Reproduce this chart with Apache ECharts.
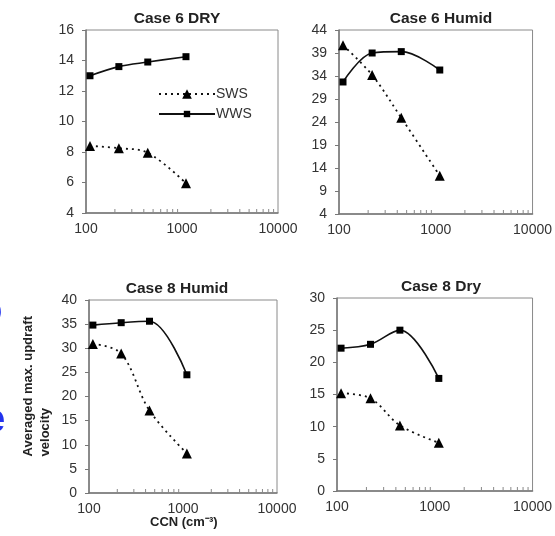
<!DOCTYPE html>
<html>
<head>
<meta charset="utf-8">
<script src="https://cdn.jsdelivr.net/npm/echarts@6/dist/echarts.min.js"></script>
<style>
  html, body { margin: 0; padding: 0; background: #fff; }
  #main { width: 555px; height: 536px; }
</style>
</head>
<body>
<div id="main"></div>
<script>
// CCN values (cm-3) shared by all panels
var ccn = [110, 220, 440, 1100];

var titles = ['Case 6 DRY', 'Case 6 Humid', 'Case 8 Humid', 'Case 8 Dry'];

// updraft velocity per panel
var sws6dry = [8.4, 8.25, 7.95, 5.95];
var wws6dry = [13.0, 13.6, 13.9, 14.25];
var sws6humid = [40.7, 34.2, 24.9, 12.3];
var wws6humid = [32.7, 39.0, 39.3, 35.3];
var sws8humid = [30.9, 28.9, 17.1, 8.2];
var wws8humid = [34.8, 35.3, 35.6, 24.5];
var sws8dry = [15.2, 14.4, 10.2, 7.5];
var wws8dry = [22.2, 22.8, 25.0, 17.5];

// y axis ranges [min, max, interval]
var yRanges = [[4, 16, 2], [4, 44, 5], [0, 40, 5], [0, 30, 5]];

// minor log ticks along the x axis
var minorTickValues = [200, 300, 400, 500, 600, 700, 800, 900, 2000, 3000, 4000, 5000, 6000, 7000, 8000, 9000];

var swsData = [sws6dry, sws6humid, sws8humid, sws8dry];
var wwsData = [wws6dry, wws6humid, wws8humid, wws8dry];

var font = 'Liberation Sans, Arial, sans-serif';

var chart = echarts.init(document.getElementById('main'));

var grids = [
  {left: 86, top: 30, width: 192, height: 183},
  {left: 339, top: 30, width: 194, height: 184},
  {left: 89, top: 300, width: 188, height: 193},
  {left: 337, top: 298, width: 199, height: 193}
];
// title centres (Excel put the left ones a little off centre)
var titleX = [172, 436, 172, 436];

var xAxes = [], yAxes = [], series = [], titleOpts = [];

grids.forEach(function (g, i) {
  g.show = true;
  g.borderColor = '#8a8a8a';
  g.borderWidth = 1;
  g.backgroundColor = '#fff';

  titleOpts.push({
    text: titles[i],
    left: titleX[i],
    top: g.top - 24,
    textAlign: 'center',
    textStyle: {fontFamily: font, fontSize: 15.5, fontWeight: 'bold', color: '#222'}
  });

  xAxes.push({
    type: 'log',
    gridIndex: i,
    min: 100,
    max: 10000,
    logBase: 10,
    axisLine: {lineStyle: {color: '#777', width: 1.5}},
    axisTick: {show: false},
    splitLine: {show: false},
    axisLabel: {
      fontFamily: font, fontSize: 14, color: '#333', margin: 9,
      showMinLabel: true, showMaxLabel: true,
      formatter: function (v) { return String(Math.round(v)); }
    }
  });

  yAxes.push({
    type: 'value',
    gridIndex: i,
    min: yRanges[i][0],
    max: yRanges[i][1],
    interval: yRanges[i][2],
    axisLine: {show: true, lineStyle: {color: '#777', width: 1.5}},
    axisTick: {show: true, length: 4, lineStyle: {color: '#777'}},
    splitLine: {show: false},
    axisLabel: {fontFamily: font, fontSize: 14, color: '#333', margin: 12}
  });

  series.push({
    name: 'SWS',
    type: 'line',
    xAxisIndex: i,
    yAxisIndex: i,
    smooth: 0.35,
    data: ccn.map(function (c, k) { return [c, swsData[i][k]]; }),
    symbol: 'triangle',
    symbolSize: 10,
    itemStyle: {color: '#000'},
    lineStyle: {color: '#111', width: 1.8, type: [2, 4]},
    z: 3
  });

  series.push({
    name: 'WWS',
    type: 'line',
    xAxisIndex: i,
    yAxisIndex: i,
    smooth: 0.35,
    data: ccn.map(function (c, k) { return [c, wwsData[i][k]]; }),
    symbol: 'rect',
    symbolSize: 7,
    itemStyle: {color: '#000'},
    lineStyle: {color: '#111', width: 1.6},
    z: 3
  });

  // minor tick marks, drawn inside the plot from the x axis scale
  series.push({
    type: 'custom',
    xAxisIndex: i,
    yAxisIndex: i,
    silent: true,
    data: minorTickValues.map(function (v) { return [v, yRanges[i][0]]; }),
    renderItem: function (params, api) {
      var p = api.coord([api.value(0), api.value(1)]);
      return {
        type: 'line',
        shape: {x1: p[0], y1: p[1], x2: p[0], y2: p[1] - 4},
        style: {stroke: '#888', lineWidth: 1}
      };
    },
    z: 2
  });
});

var legendText = {fontFamily: font, fontSize: 14, color: '#333', padding: [0, 0, 0, -4]};

var option = {
  animation: false,
  backgroundColor: '#fff',
  title: titleOpts,
  grid: grids,
  xAxis: xAxes,
  yAxis: yAxes,
  legend: [
    {
      data: ['SWS'],
      left: 153,
      top: 82,
      itemWidth: 56,
      itemHeight: 12,
      textStyle: legendText
    },
    {
      data: ['WWS'],
      left: 153,
      top: 102,
      itemWidth: 56,
      itemHeight: 8,
      textStyle: legendText
    }
  ],
  series: series,
  graphic: [
    {
      type: 'text',
      left: 20,
      top: 316,
      rotation: Math.PI / 2,
      style: {
        text: 'Averaged max. updraft\nvelocity',
        font: 'bold 13px ' + font,
        fill: '#222',
        align: 'center',
        lineHeight: 17
      }
    },
    {
      type: 'text',
      left: 150,
      top: 516,
      style: {
        text: 'CCN (cm⁻³)',
        font: 'bold 13px ' + font,
        fill: '#222'
      }
    },
    {
      type: 'text',
      left: -22,
      top: 292,
      style: {text: 'o', font: 'bold 40px ' + font, fill: '#2233ee'}
    },
    {
      type: 'text',
      left: -17,
      top: 401,
      style: {text: 'e', font: 'bold 40px ' + font, fill: '#2233ee'}
    }
  ]
};

chart.setOption(option);

window.onresize = function () {
  chart.resize();
};
</script>
</body>
</html>
